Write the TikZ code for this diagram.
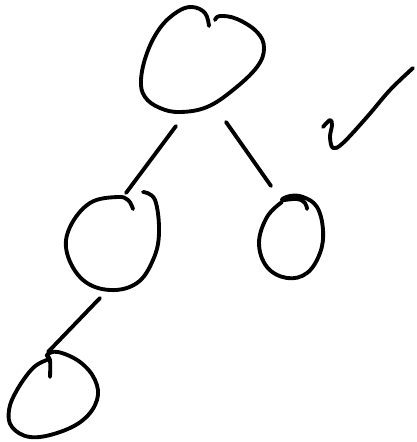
\documentclass[tikz,border=0pt]{standalone}
\usepackage{tikz}
\usetikzlibrary{calc}
\tikzset{
  sketch line/.style={
    draw=black,
    line width=2.2pt,
    line cap=round,
    line join=round,
  },
  sketch blob/.style={
    sketch line,
    smooth,
    tension=0.65,
  },
}

\begin{document}
\begin{tikzpicture}[x=0.02cm,y=-0.02cm]
  \useasboundingbox (0,0) rectangle (416,442);

  % tree nodes, drawn by hand
  \draw[sketch line] plot[smooth, tension=0.65] coordinates {
    (209,26) (205,13) (192,7) (177,12) (160,28) (147,53) (141,80) (145,97)
    (160,108) (180,112) (207,107) (233,90) (257,67) (264,48) (257,32)
    (237,19) (220,16) (215,20)};
  \draw[sketch line] plot[smooth, tension=0.65] coordinates {
    (143,192) (155,200) (159,233) (153,260) (137,283) (110,290) (83,280)
    (67,253) (70,227) (90,203) (117,197) (128,200) (133,209)};
  \draw[sketch line] plot[smooth, tension=0.65] coordinates {
    (282,202) (267,217) (259,243) (267,267) (287,278) (307,273) (320,253)
    (323,230) (317,207) (303,197) (290,196) (282,200) (297,199) (305,203)
    (307,209)};
  \draw[sketch line] plot[smooth, tension=0.65] coordinates {
    (50,377) (50,360) (47,355) (58,352) (80,362) (95,380) (97,400) (83,420)
    (57,433) (30,437) (12,427) (9,410) (17,390) (33,368) (47,360)};

  % ends of the connectors
  \coordinate (root-sw) at (176,126);
  \coordinate (root-se) at (226,122);
  \coordinate (left-n) at (126,193);
  \coordinate (left-s) at (100,298);
  \coordinate (right-n) at (271,186);
  \coordinate (leaf-n) at (48,352);

  \draw[sketch line] (root-sw) -- (left-n);
  \draw[sketch line] (root-se) -- (right-n);
  \draw[sketch line] (left-s) -- (leaf-n);

  % tick mark
  \draw[sketch line] plot[smooth, tension=0.6] coordinates {
    (323,127) (330,120) (332,125) (330,137) (333,148) (343,143) (367,117)
    (390,90) (413,68)};
\end{tikzpicture}
\end{document}
